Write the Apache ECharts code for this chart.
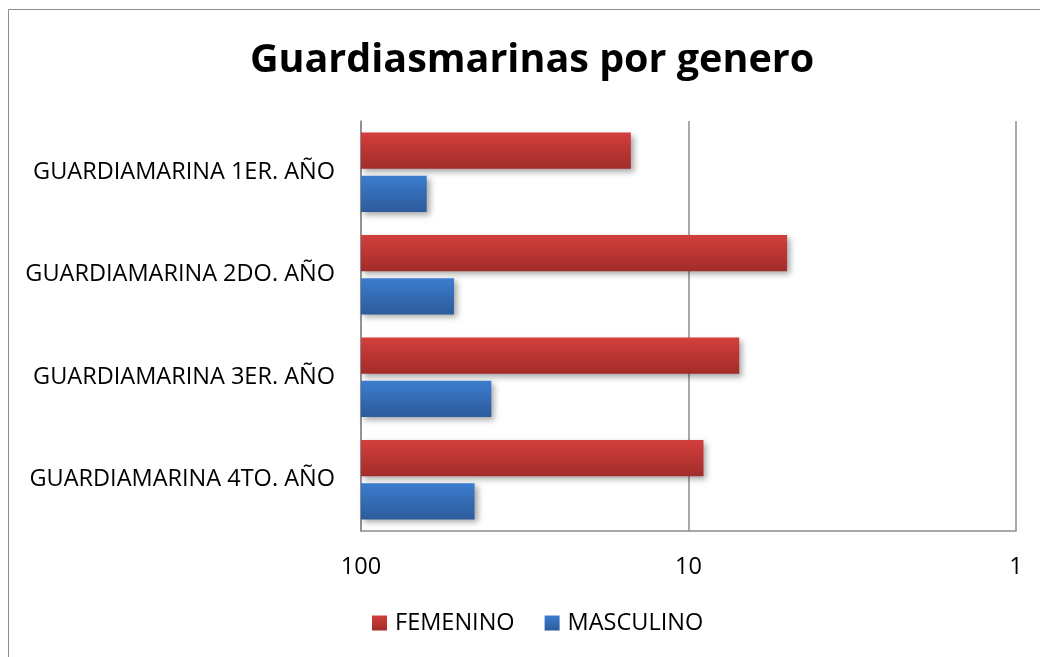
<!DOCTYPE html>
<html>
<head>
<meta charset="utf-8">
<script src="https://cdn.jsdelivr.net/npm/echarts@6/dist/echarts.min.js"></script>
<style>
  html, body { margin: 0; padding: 0; background: #fff; }
  #chart { width: 1040px; height: 657px; }
</style>
</head>
<body>
<div id="chart"></div>
<script>
// datos (eje logarítmico invertido)
const categories = ['GUARDIAMARINA 1ER. AÑO', 'GUARDIAMARINA 2DO. AÑO', 'GUARDIAMARINA 3ER. AÑO', 'GUARDIAMARINA 4TO. AÑO']
const femenino = [15, 5, 7, 9]
const masculino = [63, 52, 40, 45]
const xTicks = [100, 10, 1]

const FONT = '"Open Sans", Lato, sans-serif'

const redGrad = new echarts.graphic.LinearGradient(0, 0, 0, 1, [
  { offset: 0, color: '#d33f3c' },
  { offset: 1, color: '#a12c2a' }
])
const blueGrad = new echarts.graphic.LinearGradient(0, 0, 0, 1, [
  { offset: 0, color: '#3c7dcf' },
  { offset: 1, color: '#2c5b9b' }
])

// barras desde el extremo 100 hasta el valor
const makeRender = (offset, color) => (params, api) => {
  const cat = api.value(1)
  const val = api.value(0)
  const start = api.coord([100, cat])
  const end = api.coord([val, cat])
  const band = params.coordSys.height / categories.length
  const h = band * 0.354
  const cy = start[1] + band * offset
  return {
    type: 'rect',
    shape: { x: start[0], y: cy - h / 2, width: end[0] - start[0], height: h },
    style: {
      fill: color,
      shadowBlur: 6,
      shadowColor: 'rgba(0,0,0,0.35)',
      shadowOffsetX: 3,
      shadowOffsetY: 3
    }
  }
}

const chart = echarts.init(document.getElementById('chart'))
chart.setOption({
  animation: false,
  title: {
    text: 'Guardiasmarinas por genero',
    left: 527,
    textAlign: 'center',
    top: 36,
    textStyle: { fontFamily: FONT, fontSize: 39.5, fontWeight: 'bold', color: '#000' }
  },
  graphic: [{
    type: 'rect',
    shape: { x: 8.5, y: 9.5, width: 1100, height: 700 },
    style: { fill: 'none', stroke: '#8c8c8c', lineWidth: 1 },
    silent: true
  }],
  legend: {
    left: 372,
    top: 611,
    padding: 0,
    itemWidth: 15,
    itemHeight: 15,
    itemGap: 30,
    icon: 'rect',
    textStyle: { fontFamily: FONT, fontSize: 23.5, color: '#000', padding: [0, 0, 0, 3] },
    data: ['FEMENINO', 'MASCULINO']
  },
  grid: { left: 361, right: 24, top: 121, bottom: 126 },
  xAxis: {
    type: 'log',
    logBase: 10,
    min: 1,
    max: 100,
    inverse: true,
    axisLine: { show: true, lineStyle: { color: '#8c8c8c', width: 1.5 } },
    axisTick: { show: false },
    axisLabel: {
      fontFamily: FONT, fontSize: 23.5, color: '#000', margin: 24,
      formatter: v => (xTicks.includes(Math.round(v)) ? String(Math.round(v)) : '')
    },
    splitLine: { show: true, lineStyle: { color: '#8c8c8c', width: 1.5 } }
  },
  yAxis: {
    type: 'category',
    inverse: true,
    data: categories,
    axisLine: { show: true, lineStyle: { color: '#8c8c8c', width: 1.5 } },
    axisTick: { show: false },
    axisLabel: { fontFamily: FONT, fontSize: 23.5, color: '#000', margin: 26 }
  },
  series: [
    {
      name: 'FEMENINO',
      type: 'custom',
      itemStyle: { color: redGrad },
      encode: { x: 0, y: 1 },
      data: femenino.map((v, i) => [v, i]),
      renderItem: makeRender(-0.21, redGrad)
    },
    {
      name: 'MASCULINO',
      type: 'custom',
      itemStyle: { color: blueGrad },
      encode: { x: 0, y: 1 },
      data: masculino.map((v, i) => [v, i]),
      renderItem: makeRender(0.21, blueGrad)
    }
  ]
})
</script>
</body>
</html>
